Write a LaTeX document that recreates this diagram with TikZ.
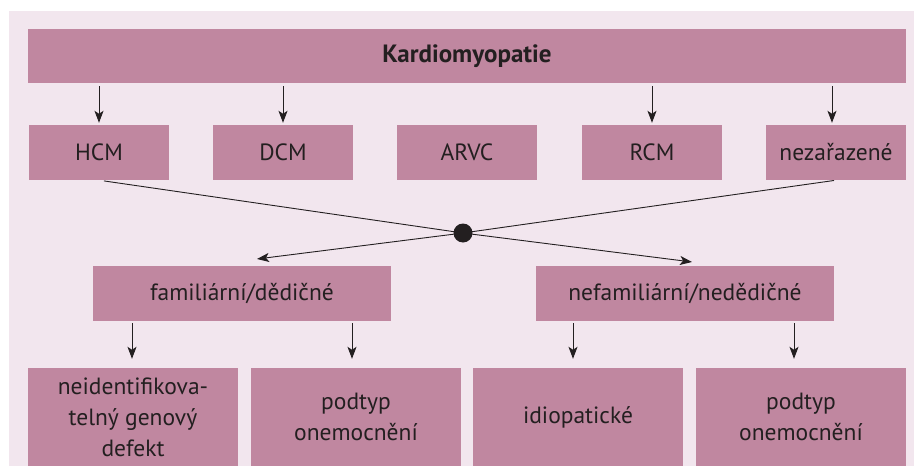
\documentclass[tikz,border=0pt]{standalone}
\usepackage{fontspec}
\setmainfont{PT Sans}
\usetikzlibrary{arrows.meta}
\definecolor{boxpink}{RGB}{192,135,160}
\definecolor{backpink}{RGB}{242,230,238}
\definecolor{inkgray}{RGB}{35,31,32}
\newcommand{\boxfont}{\fontsize{23.5}{31}\selectfont}

\begin{document}
\begin{tikzpicture}[x=1pt, y=-1pt,
    box/.style={fill=boxpink, text=inkgray, inner sep=0pt, align=center, font=\boxfont},
    small/.style={box, minimum width=140pt, minimum height=55pt},
    mid/.style={box, minimum width=298pt, minimum height=55pt},
    leaf/.style={box, minimum width=210pt, minimum height=98pt},
    arr/.style={draw=inkgray, line width=0.9pt, -{Stealth[length=12pt, width=9pt, inset=3pt]}},
    link/.style={draw=inkgray, line width=0.9pt}]
  \useasboundingbox (0,0) rectangle (914,466);
  \fill[backpink] (9,11) rectangle (914,466);
  \draw
    (467,56) node[box, minimum width=878pt, minimum height=54pt, font=\fontsize{25}{31}\selectfont\bfseries] (kardio) {Kardiomyopatie}
    (99,152.5) node[small] (hcm) {HCM}
    (283,152.5) node[small] (dcm) {DCM}
    (467,152.5) node[small] (arvc) {ARVC}
    (652,152.5) node[small] (rcm) {RCM}
    (836,152.5) node[small] (nezar) {nezařazené}
    (242,293.5) node[mid] (famil) {familiární/dědičné}
    (685,293.5) node[mid] (nefamil) {nefamiliární/nedědičné}
    (133,417) node[leaf] (neident) {neidentifikova-\\telný genový\\defekt}
    (356,417) node[leaf] (podtypa) {podtyp\\onemocnění}
    (578,417) node[leaf] (idiopat) {idiopatické}
    (801,417) node[leaf] (podtypb) {podtyp\\onemocnění};
  \node[circle, fill=inkgray, minimum size=19pt, inner sep=0pt] (hub) at (463,233) {};
  \coordinate (famtip) at (257,259);
  \coordinate (nefamtip) at (692,262);
  % from the heading down to the types
  \begin{scope}[arr, shorten <=3pt, shorten >=2pt]
    \draw (kardio.south -| hcm) to (hcm.north);
    \draw (kardio.south -| dcm) to (dcm.north);
    \draw (kardio.south -| rcm) to (rcm.north);
    \draw ([xshift=-4pt]kardio.south -| nezar) to ([xshift=-4pt]nezar.north);
  \end{scope}
  % the crossing
  \draw[link, shorten <=5pt] (hcm.south) to (hub.center);
  \draw[link, shorten <=2pt] (nezar.south) to (hub.center);
  \draw[arr] (hub.center) to (famtip);
  \draw[arr] (hub.center) to (nefamtip);
  % down to the subgroups
  \begin{scope}[arr, shorten <=2pt, shorten >=9pt]
    \draw ([xshift=-1pt]famil.south -| neident) to ([xshift=-1pt]neident.north);
    \draw ([xshift=-4pt]famil.south -| podtypa) to ([xshift=-4pt]podtypa.north);
    \draw ([xshift=-5pt]nefamil.south -| idiopat) to ([xshift=-5pt]idiopat.north);
    \draw ([xshift=-7pt]nefamil.south -| podtypb) to ([xshift=-7pt]podtypb.north);
  \end{scope}
\end{tikzpicture}
\end{document}
